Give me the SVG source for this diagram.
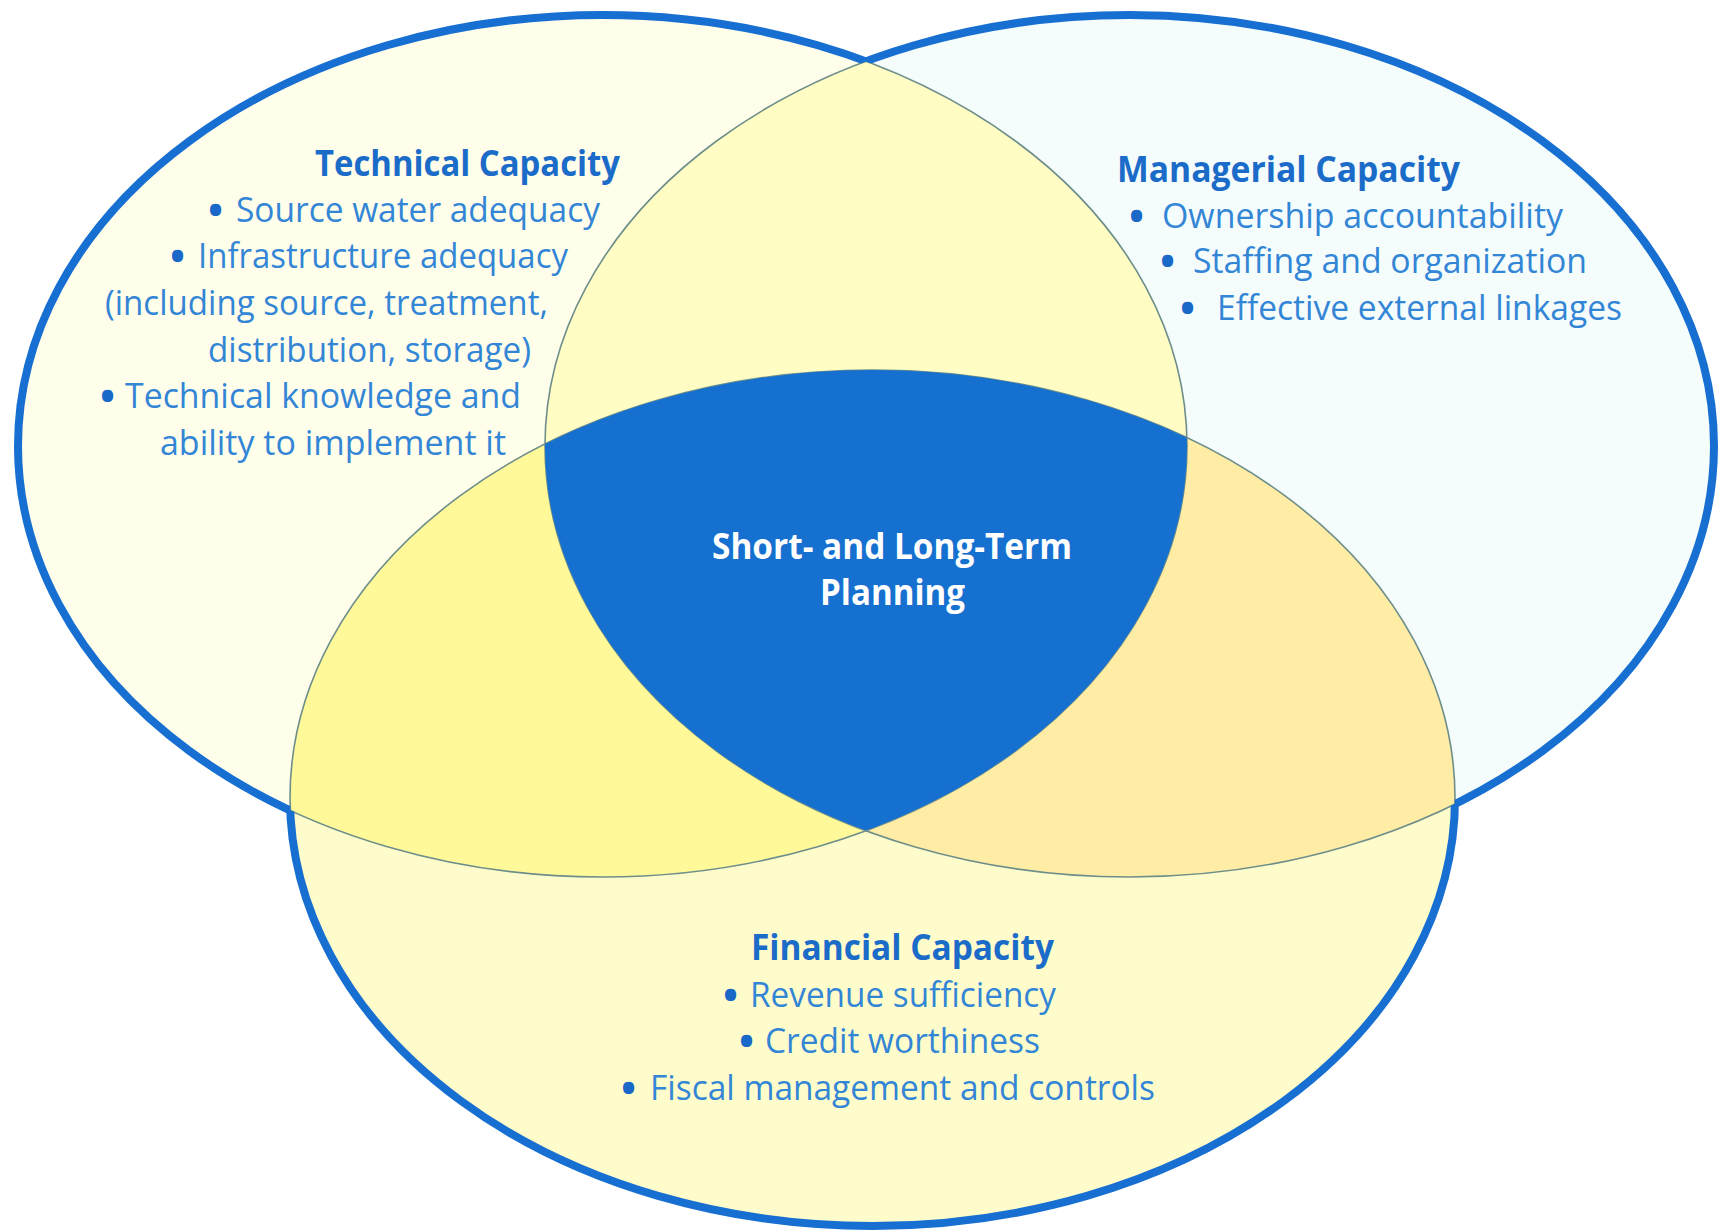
<svg xmlns="http://www.w3.org/2000/svg" xmlns:xlink="http://www.w3.org/1999/xlink" width="1721" height="1232" viewBox="0 0 1721 1232">
<style>
.hd{font-family:"Open Sans","Liberation Sans",sans-serif;font-weight:700;font-size:35px;fill:#1B6BC9}
.bd{font-family:"Open Sans","Liberation Sans",sans-serif;font-weight:400;font-size:34px;fill:#3385D6}
.bu{font-family:"Open Sans","Liberation Sans",sans-serif;font-weight:700;font-size:40px;fill:#1A68C8}
.ct{font-family:"Open Sans","Liberation Sans",sans-serif;font-weight:700;font-size:35px;fill:#FFFFFF}
.thin{fill:none;stroke:#6E8E8A;stroke-width:1.6}
.outer{fill:none;stroke:#176FD2;stroke-width:8}
</style>
<defs>
<ellipse id="eL" cx="602.5" cy="446" rx="584.5" ry="431"/>
<ellipse id="eR" cx="1129.5" cy="446" rx="584.5" ry="431"/>
<ellipse id="eB" cx="872.5" cy="798" rx="582.5" ry="428"/>
<clipPath id="cL"><use xlink:href="#eL"/></clipPath>
<clipPath id="cR"><use xlink:href="#eR"/></clipPath>
<mask id="mL" maskUnits="userSpaceOnUse" x="0" y="0" width="1721" height="1232"><rect width="1721" height="1232" fill="#fff"/><use xlink:href="#eR" fill="#000"/><use xlink:href="#eB" fill="#000"/></mask>
<mask id="mR" maskUnits="userSpaceOnUse" x="0" y="0" width="1721" height="1232"><rect width="1721" height="1232" fill="#fff"/><use xlink:href="#eL" fill="#000"/><use xlink:href="#eB" fill="#000"/></mask>
<mask id="mB" maskUnits="userSpaceOnUse" x="0" y="0" width="1721" height="1232"><rect width="1721" height="1232" fill="#fff"/><use xlink:href="#eL" fill="#000"/><use xlink:href="#eR" fill="#000"/></mask>
</defs>
<rect width="1721" height="1232" fill="#FFFFFF"/>
<g id="venn-regions">
<use xlink:href="#eL" fill="#FEFEEB"/>
<use xlink:href="#eR" fill="#F4FCFC"/>
<use xlink:href="#eB" fill="#FFFCCB"/>
<g clip-path="url(#cL)"><use xlink:href="#eR" fill="#FFFDC4"/></g>
<g clip-path="url(#cL)"><use xlink:href="#eB" fill="#FFF99A"/></g>
<g clip-path="url(#cR)"><use xlink:href="#eB" fill="#FFEDA6"/></g>
</g>
<g id="connectors">
<use xlink:href="#eL" class="thin"/>
<use xlink:href="#eR" class="thin"/>
<use xlink:href="#eB" class="thin"/>
</g>
<g id="planning">
<g clip-path="url(#cL)"><g clip-path="url(#cR)"><use xlink:href="#eB" fill="#1570D0"/></g></g>
<text class="ct" x="712" y="559" textLength="360" lengthAdjust="spacingAndGlyphs">Short- and Long-Term</text>
<text class="ct" x="820" y="605" textLength="145" lengthAdjust="spacingAndGlyphs">Planning</text>
</g>
<g id="outline">
<use xlink:href="#eL" class="outer" mask="url(#mL)"/>
<use xlink:href="#eR" class="outer" mask="url(#mR)"/>
<use xlink:href="#eB" class="outer" mask="url(#mB)"/>
</g>
<g id="technical-capacity">
<text class="hd" x="315" y="176" textLength="305" lengthAdjust="spacingAndGlyphs">Technical Capacity</text>
<text class="bu" x="208" y="224">•</text>
<text class="bd" x="236" y="222" textLength="364" lengthAdjust="spacingAndGlyphs">Source water adequacy</text>
<text class="bu" x="170" y="270">•</text>
<text class="bd" x="198" y="268" textLength="370" lengthAdjust="spacingAndGlyphs">Infrastructure adequacy</text>
<text class="bd" x="105" y="315" textLength="443" lengthAdjust="spacingAndGlyphs">(including source, treatment,</text>
<text class="bd" x="208" y="362" textLength="323" lengthAdjust="spacingAndGlyphs">distribution, storage)</text>
<text class="bu" x="100" y="410">•</text>
<text class="bd" x="125" y="408" textLength="396" lengthAdjust="spacingAndGlyphs">Technical knowledge and</text>
<text class="bd" x="160" y="455" textLength="346" lengthAdjust="spacingAndGlyphs">ability to implement it</text>
</g>
<g id="managerial-capacity">
<text class="hd" x="1117" y="182" textLength="343" lengthAdjust="spacingAndGlyphs">Managerial Capacity</text>
<text class="bu" x="1129" y="230">•</text>
<text class="bd" x="1162" y="228" textLength="401" lengthAdjust="spacingAndGlyphs">Ownership accountability</text>
<text class="bu" x="1160" y="275">•</text>
<text class="bd" x="1193" y="273" textLength="394" lengthAdjust="spacingAndGlyphs">Staffing and organization</text>
<text class="bu" x="1180" y="322">•</text>
<text class="bd" x="1217" y="320" textLength="405" lengthAdjust="spacingAndGlyphs">Effective external linkages</text>
</g>
<g id="financial-capacity">
<text class="hd" x="751" y="960" textLength="303" lengthAdjust="spacingAndGlyphs">Financial Capacity</text>
<text class="bu" x="723" y="1009">•</text>
<text class="bd" x="750" y="1007" textLength="306" lengthAdjust="spacingAndGlyphs">Revenue sufficiency</text>
<text class="bu" x="739" y="1055">•</text>
<text class="bd" x="765" y="1053" textLength="275" lengthAdjust="spacingAndGlyphs">Credit worthiness</text>
<text class="bu" x="621" y="1102">•</text>
<text class="bd" x="650" y="1100" textLength="505" lengthAdjust="spacingAndGlyphs">Fiscal management and controls</text>
</g>
</svg>
